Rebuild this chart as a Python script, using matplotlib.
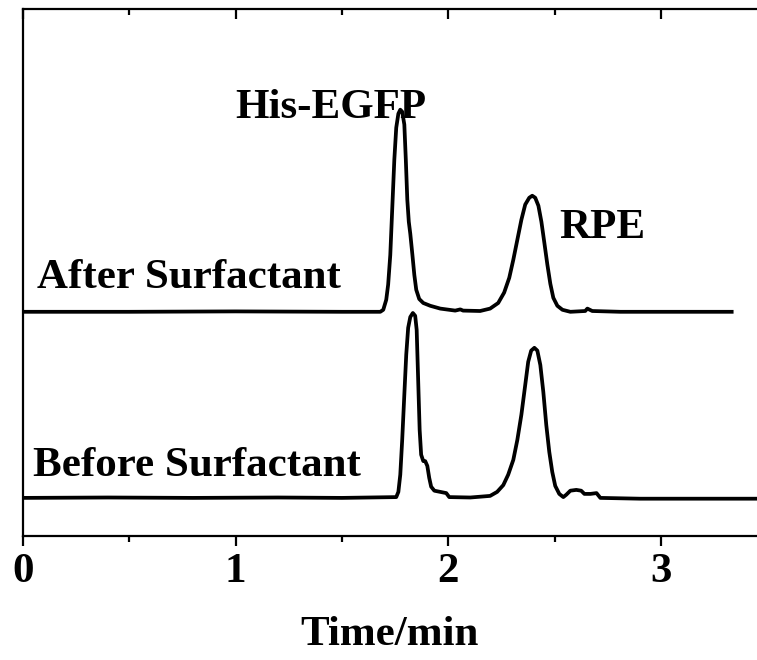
import matplotlib
matplotlib.use("Agg")
import matplotlib.pyplot as plt
from matplotlib.ticker import MultipleLocator

plt.rcParams['font.family'] = ['Liberation Serif', 'DejaVu Serif']
plt.rcParams['font.weight'] = 'bold'

# chromatograms (time in min, signal in arbitrary units)
t_after = [0.0, 0.50, 1.00, 1.50, 1.680, 1.694, 1.708, 1.717, 1.727, 1.736, 1.746,
           1.755, 1.765, 1.774, 1.783, 1.793, 1.800, 1.807, 1.814, 1.821, 1.831,
           1.840, 1.849, 1.863, 1.882, 1.915, 1.962, 2.032, 2.056, 2.069, 2.149,
           2.196, 2.234, 2.262, 2.286, 2.305, 2.324, 2.343, 2.361, 2.380, 2.394,
           2.408, 2.423, 2.437, 2.451, 2.465, 2.479, 2.493, 2.512, 2.536, 2.573,
           2.643, 2.653, 2.676, 2.808, 3.183, 3.331]
y_after = [0.0, 0.0, 0.1, 0.0, 0.0, 0.5, 3.0, 6.8, 14.2, 25.5, 38.0,
           46.0, 49.5, 50.5, 50.0, 46.8, 38.0, 28.0, 22.5, 19.5, 14.2,
           9.2, 5.5, 3.2, 2.2, 1.5, 0.8, 0.3, 0.6, 0.3, 0.2,
           0.8, 2.2, 4.8, 8.5, 13.0, 18.0, 23.0, 26.8, 28.5, 29.0,
           28.5, 26.5, 22.5, 17.2, 11.8, 7.0, 3.5, 1.5, 0.5, 0.0,
           0.2, 0.8, 0.2, 0.0, 0.0, 0.0]

t_before = [0.0, 0.40, 0.80, 1.20, 1.50, 1.755, 1.765, 1.774, 1.783, 1.793, 1.802,
            1.811, 1.821, 1.833, 1.844, 1.851, 1.858, 1.865, 1.872, 1.882, 1.891,
            1.901, 1.910, 1.919, 1.934, 1.962, 1.990, 2.004, 2.103, 2.196, 2.229,
            2.258, 2.281, 2.305, 2.324, 2.343, 2.361, 2.375, 2.389, 2.404, 2.418,
            2.432, 2.446, 2.460, 2.474, 2.488, 2.502, 2.521, 2.540, 2.554, 2.573,
            2.601, 2.624, 2.639, 2.667, 2.696, 2.714, 2.901, 3.20, 3.45]
y_before = [0.0, 0.1, 0.0, 0.1, 0.0, 0.2, 1.5, 5.8, 14.5, 25.8, 35.8,
            42.5, 45.2, 46.2, 45.5, 42.0, 29.5, 17.0, 10.8, 9.2, 9.2,
            8.0, 5.0, 2.8, 1.8, 1.5, 1.2, 0.2, 0.1, 0.5, 1.5,
            3.2, 5.8, 9.5, 14.5, 20.8, 28.2, 34.0, 36.8, 37.5, 36.8,
            33.2, 26.5, 18.2, 11.5, 6.5, 3.0, 1.0, 0.2, 0.8, 1.8,
            2.0, 1.8, 1.0, 1.0, 1.2, 0.0, -0.2, -0.2, -0.2]

offset = 46.5
labels = ["After Surfactant", "Before Surfactant"]
xticks = [0, 1, 2, 3]

fig = plt.figure(figsize=(7.57, 6.6), dpi=100)
ax = fig.add_axes([0.030, 0.188, 0.970, 0.798])

ax.plot(t_after, [v + offset for v in y_after], color='black', lw=2.7,
        solid_joinstyle='round')
ax.plot(t_before, y_before, color='black', lw=2.7, solid_joinstyle='round')

ax.set_xlim(0, 3.45)
ax.set_ylim(-9.5, 122.1)

fs = 31
ax.text(0.067, 52.5, labels[0], fontsize=fs, fontweight='bold', va='baseline', ha='left')
ax.text(0.048, 5.5, labels[1], fontsize=fs, fontweight='bold', va='baseline', ha='left')
ax.text(0.998, 95, "His-EGFP", fontsize=fs, fontweight='bold', va='baseline', ha='left')
ax.text(2.521, 65, "RPE", fontsize=fs, fontweight='bold', va='baseline', ha='left')

ax.spines['right'].set_visible(False)
for s in ['left', 'top', 'bottom']:
    ax.spines[s].set_linewidth(1.6)

ax.set_xticks(xticks)
ax.xaxis.set_minor_locator(MultipleLocator(0.5))
ax.set_yticks([])
ax.tick_params(axis='x', which='major', direction='out', length=7, width=1.6,
               labelsize=fs, pad=5, top=True)
ax.tick_params(axis='x', which='minor', direction='out', length=4, width=1.6, top=True)
# top ticks point inward
for tk in ax.xaxis.get_major_ticks() + ax.xaxis.get_minor_ticks():
    tk.tick2line.set_marker(3)

ax.set_xlabel("Time/min", fontsize=fs, fontweight='bold', labelpad=18)

fig.savefig("out.png", dpi=100)
